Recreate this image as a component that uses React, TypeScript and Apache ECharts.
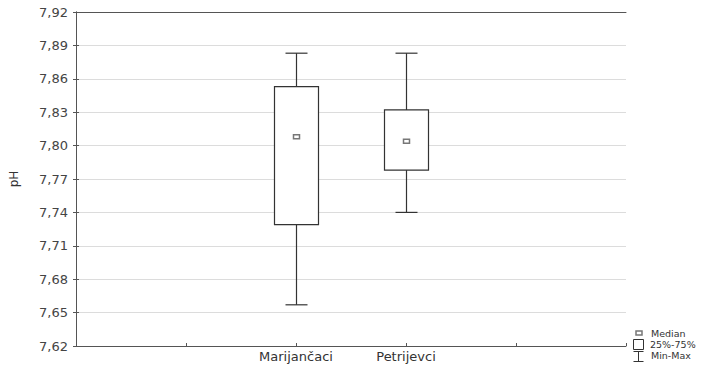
import React, { useEffect, useRef } from "react";
import * as echarts from "echarts";

const categories = ["Marijančaci", "Petrijevci"];
const xPositions = [2, 3];
const mins = [7.657, 7.74];
const q1s = [7.729, 7.778];
const medians = [7.808, 7.804];
const q3s = [7.853, 7.832];
const maxs = [7.883, 7.883];
const yTicks = { min: 7.62, max: 7.92, interval: 0.03 };

const FONT = "DejaVu Sans";

export default function App() {
  const ref = useRef<HTMLDivElement>(null);
  useEffect(() => {
    if (!ref.current) return;
    const chart = echarts.init(ref.current, null, { renderer: "svg" });
    const data = xPositions.map((x, i) => [x, mins[i], q1s[i], medians[i], q3s[i], maxs[i]]);
    const axisColor = "#555";
    const legendText = (text: string, x: number, y: number) => ({
      type: "text",
      x,
      y,
      style: { text, fontFamily: FONT, fontSize: 9.5, lineHeight: 10, fill: "#333", verticalAlign: "middle" },
    });
    chart.setOption({
      animation: false,
      backgroundColor: "#fff",
      grid: { left: 73, right: 87, top: 12, bottom: 19 },
      xAxis: [
        {
          type: "value",
          min: 0,
          max: 5,
          interval: 1,
          axisLine: { lineStyle: { color: axisColor } },
          axisTick: { inside: true, length: 3, lineStyle: { color: axisColor } },
          splitLine: { show: false },
          axisLabel: {
            margin: 4,
            color: "#333",
            fontFamily: FONT,
            fontSize: 13,
            formatter: (v: number) => {
              const idx = xPositions.indexOf(v);
              return idx >= 0 ? categories[idx] : "";
            },
          },
        },
        {
          type: "value",
          position: "top",
          min: 0,
          max: 5,
          axisLine: { show: true, lineStyle: { color: axisColor } },
          axisTick: { show: false },
          axisLabel: { show: false },
          splitLine: { show: false },
        },
      ],
      yAxis: [
        {
          type: "value",
          min: yTicks.min,
          max: yTicks.max,
          interval: yTicks.interval,
          name: "pH",
          nameLocation: "middle",
          nameGap: 56,
          nameTextStyle: { color: "#333", fontFamily: FONT, fontSize: 12 },
          axisLine: { show: true, lineStyle: { color: axisColor } },
          axisTick: { show: true, inside: true, length: 3, lineStyle: { color: axisColor } },
          splitLine: { show: true, lineStyle: { color: "#dcdcdc", width: 1 } },
          axisLabel: {
            margin: 8,
            color: "#444",
            fontFamily: FONT,
            fontSize: 13,
            formatter: (v: number) => v.toFixed(2).replace(".", ","),
          },
        },
        {
          type: "value",
          position: "right",
          min: yTicks.min,
          max: yTicks.max,
          interval: yTicks.interval,
          axisLine: { show: true, lineStyle: { color: axisColor } },
          axisTick: { show: true, inside: true, length: 3, lineStyle: { color: axisColor } },
          splitLine: { show: false },
          axisLabel: { show: false },
        },
      ],
      series: [
        {
          type: "custom",
          xAxisIndex: 0,
          yAxisIndex: 0,
          data,
          renderItem: (params: any, api: any) => {
            const x = api.value(0);
            const pMin = api.coord([x, api.value(1)]);
            const pQ1 = api.coord([x, api.value(2)]);
            const pMed = api.coord([x, api.value(3)]);
            const pQ3 = api.coord([x, api.value(4)]);
            const pMax = api.coord([x, api.value(5)]);
            const unit = api.size([1, 0])[0];
            const bw = unit * 0.4;
            const cw = unit * 0.2;
            const cx = Math.round(pMin[0]) + 0.5;
            const st = { stroke: "#333", lineWidth: 1.2, fill: null };
            return {
              type: "group",
              children: [
                { type: "line", shape: { x1: cx, y1: pMax[1], x2: cx, y2: pQ3[1] }, style: st },
                { type: "line", shape: { x1: cx, y1: pQ1[1], x2: cx, y2: pMin[1] }, style: st },
                { type: "line", shape: { x1: cx - cw / 2, y1: pMax[1], x2: cx + cw / 2, y2: pMax[1] }, style: st },
                { type: "line", shape: { x1: cx - cw / 2, y1: pMin[1], x2: cx + cw / 2, y2: pMin[1] }, style: st },
                {
                  type: "rect",
                  shape: { x: cx - bw / 2, y: pQ3[1], width: bw, height: pQ1[1] - pQ3[1] },
                  style: { stroke: "#333", lineWidth: 1.2, fill: "#fff" },
                },
                {
                  type: "rect",
                  shape: { x: cx - 3, y: pMed[1] - 2, width: 6, height: 4 },
                  style: { stroke: "#777", lineWidth: 1.5, fill: "#fff" },
                },
              ],
            };
          },
        },
      ],
      graphic: [
        { type: "rect", shape: { x: 636, y: 331, width: 6, height: 4 }, style: { stroke: "#777", lineWidth: 1.5, fill: "#fff" } },
        legendText("Median", 651, 333),
        { type: "rect", shape: { x: 633.5, y: 339.5, width: 10, height: 10 }, style: { stroke: "#333", lineWidth: 1, fill: "#fff" } },
        legendText("25%-75%", 650, 344),
        { type: "line", shape: { x1: 638.5, y1: 351.5, x2: 638.5, y2: 362 }, style: { stroke: "#333", lineWidth: 1 } },
        { type: "line", shape: { x1: 633.5, y1: 351.5, x2: 643.5, y2: 351.5 }, style: { stroke: "#333", lineWidth: 1 } },
        { type: "line", shape: { x1: 633.5, y1: 361.5, x2: 643.5, y2: 361.5 }, style: { stroke: "#333", lineWidth: 1 } },
        legendText("Min-Max", 651, 355),
      ],
    });
    return () => chart.dispose();
  }, []);
  return <div ref={ref} style={{ width: 713, height: 365, position: "absolute", left: 0, top: 0 }} />;
}
